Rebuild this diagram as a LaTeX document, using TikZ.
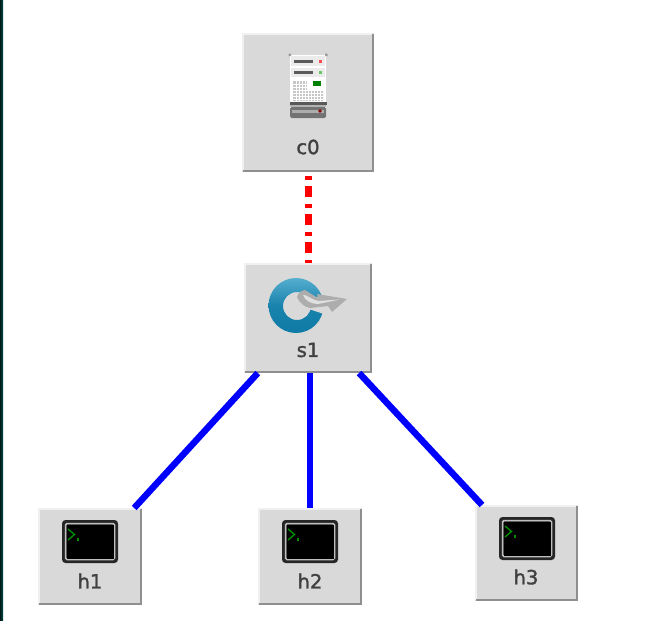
\documentclass[tikz,border=0pt]{standalone}
\usepackage{fontspec}
\setmainfont{DejaVu Sans}
\newfontfamily\lblfont[FakeBold=1.6]{DejaVu Sans}
\definecolor{btn}{HTML}{D9D9D9}
\definecolor{btnhi}{HTML}{F0F0F0}
\definecolor{btnlo}{HTML}{8F8F8F}
\definecolor{ringB}{HTML}{55AECF}
\definecolor{ringC}{HTML}{0E7BA6}
\definecolor{srv}{HTML}{5A5A5A}
\tikzset{
  x=1pt,y=-1pt,
  btnbox/.style={draw=none,fill=btn,inner sep=0pt,outer sep=0pt,rectangle},
  btntext/.style={inner sep=0pt,font=\lblfont\fontsize{19.5}{21}\selectfont,text=black!75},
  datalink/.style={line width=6.5pt,blue},
  ctrllink/.style={line width=7pt,red,dash pattern=on 11pt off 7pt on 3.5pt off 6.5pt,dash phase=14pt},
  hi/.style={btnhi,line width=2.5pt},
  lo/.style={btnlo,line width=2.5pt},
}
% name, left, top, right, bottom
\newcommand{\btnnode}[5]{%
  \node[btnbox,minimum width=#4pt-#2pt,minimum height=#5pt-#3pt] (#1) at ({(#2+#4)/2},{(#3+#5)/2}) {};
  \draw[hi] (#2+1,#5-1) -- (#2+1,#3+1) -- (#4-1,#3+1);
  \draw[lo] (#2+1,#5-1) -- (#4-1,#5-1) -- (#4-1,#3+1);
}
% terminal icon: left, top
\newcommand{\termicon}[2]{%
  \begin{scope}[shift={(#1,#2)}]
    \fill[black!85,rounded corners=3.5pt] (0,0) rectangle (56,43);
    \draw[black!25,line width=1.5pt,rounded corners=1.5pt] (3.5,3.5) rectangle (52.5,39.5);
    \fill[black] (4.5,4.5) rectangle (51.5,38.5);
    \draw[green!55!black,line width=1.4pt] (6,9) -- (12.5,14.5) -- (6,20);
    \fill[green!55!black] (14.5,18) rectangle (17,20.5);
  \end{scope}
}
\begin{document}
\begin{tikzpicture}
\useasboundingbox (0,0) rectangle (672,621);
\fill[white] (0,0) rectangle (672,621);
\fill[left color=black!80!teal,right color=teal!60!black] (0,0) rectangle (3,621);

\btnnode{c0}{242}{33}{374}{172}
\btnnode{s1}{244}{263}{372}{373}
\btnnode{h1}{38}{508}{142}{605}
\btnnode{h2}{258}{508}{362}{605}
\btnnode{h3}{475}{505}{578}{601}

\draw[ctrllink] (c0) -- (s1);
\draw[datalink] (s1) -- (h1);
\draw[datalink] (h2 |- s1.south) -- (h2);
\draw[datalink] (s1) -- (h3);

% server icon
\fill[white] (290,55) rectangle (326,117);
\fill[srv!60] (288.5,53.5) rectangle (291,56) (325,53.5) rectangle (327.5,56);
\fill[white!92!black] (291,56) rectangle (325,66);
\fill[srv] (294,60) rectangle (313,62.5);
\fill[red!70] (319,59.5) rectangle (322,62.5);
\fill[white!92!black] (291,68) rectangle (325,77);
\fill[srv] (294,71) rectangle (313,73.5);
\fill[green!65!black!60] (319,70.5) rectangle (322,73.5);
\fill[white] (291,79) rectangle (325,102);
\fill[black!22] (293,81) rectangle (307,91) (293,91) rectangle (323,101);
\foreach \gx in {296,299,...,321} \draw[white,line width=.6pt] (\gx,81) -- (\gx,101);
\foreach \gy in {84,87,...,99} \draw[white,line width=.6pt] (293,\gy) -- (323,\gy);
\fill[white] (307,80) rectangle (325,91);
\fill[green!50!black] (313,81) rectangle (321,86);
\fill[black!65] (289.5,102) rectangle (326.5,105);
\fill[white!70!black] (290,105) rectangle (326,107);
\fill[srv!85,rounded corners=1.5pt] (290,107) rectangle (326,118);
\fill[srv!50] (292,109.5) rectangle (324,113);
\fill[red!55!black] (320,111) circle (1.8);

% switch icon
\shade[top color=ringB,bottom color=ringC,middle color=ringC!85!ringB,even odd rule]
  (296,305.5) circle (27.5) (297,306) circle (14);
\fill[btn] (297,305) -- (330,292) -- (330,316) -- cycle;
\fill[black!32] (297,297) .. controls (298,293) and (302,290) .. (305,290)
  -- (318,298) -- (317,294) -- (347,299) -- (332,312) -- (328,306)
  -- (310,308) .. controls (305,307) and (300,304) .. (297,297) -- cycle;
\fill[white!88!black] (303,295) .. controls (306,294) and (312,300) .. (318,301)
  -- (340,299.5) -- (318,304) .. controls (312,304) and (305,301) .. (303,295) -- cycle;

% host icons
\termicon{62}{520}
\termicon{282}{520}
\termicon{499}{517}

\node[btntext] (c0t) at (308,147) {c0};
\node[btntext] (s1t) at (308,350) {s1};
\node[btntext] (h1t) at (90,581) {h1};
\node[btntext] (h2t) at (310,581) {h2};
\node[btntext] (h3t) at (526,577) {h3};
\end{tikzpicture}
\end{document}
